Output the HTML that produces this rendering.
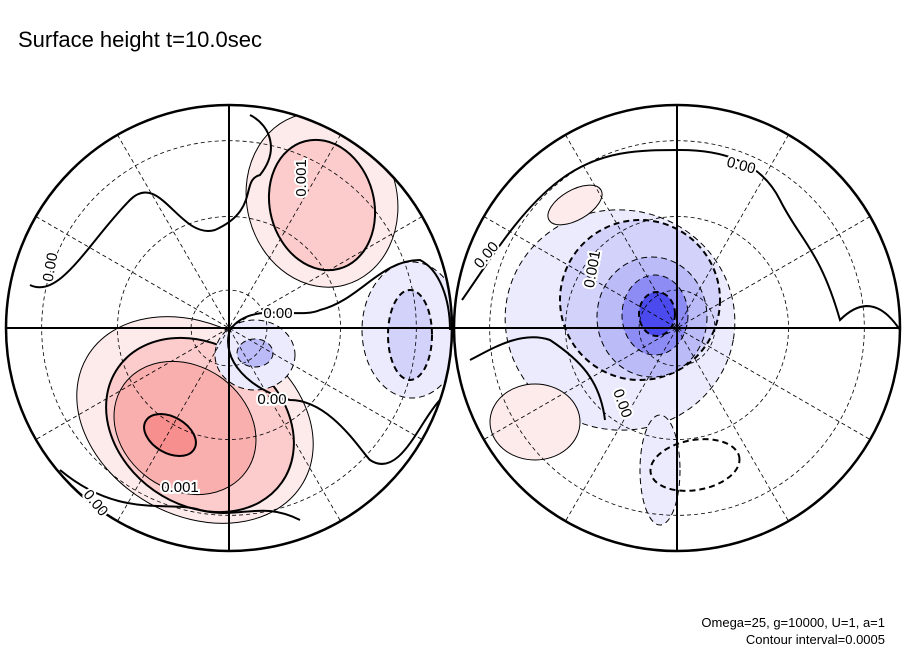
<!DOCTYPE html>
<html><head><meta charset="utf-8"><style>
html,body{margin:0;padding:0;background:#fff;width:904px;height:654px;overflow:hidden}
svg{display:block}
text{font-family:"Liberation Sans",sans-serif}
</style></head><body>
<svg id="chart" width="904" height="654">
<text x="18" y="47" font-size="22">Surface height t=10.0sec</text>
<g id="panels"></g>
<text x="885" y="627" font-size="13" text-anchor="end">Omega=25, g=10000, U=1, a=1</text>
<text x="885" y="644" font-size="13" text-anchor="end">Contour interval=0.0005</text>
</svg>
<script>
const panelCenters=[[229,328],[677,328]];
const panelRadius=223;
const latCircles=[0.17,0.5,0.84];
const meridianDeg=[0,30,60,90,120,150];
// filled contour blobs: panel, cx, cy, rx, ry, rot, level (+ red / - blue, 0 = dashed outline only)
const blobPanel=[0,0,0,0,0,0,0,0,0,0,1,1,1,1,1,1,1,1,1];
const blobCx=[195,200,185,170,322,322,255,255,412,410,620,660,640,652,655,657,535,575,695];
const blobCy=[420,425,428,435,200,205,355,353,330,335,320,470,300,317,315,314,422,205,465];
const blobRx=[125,100,75,28,75,52,40,18,50,22,115,20,80,55,33,18,45,30,45];
const blobRy=[95,80,62,18,88,66,35,14,68,45,110,55,80,60,40,22,38,15,25];
const blobRot=[30,35,35,30,-15,-15,0,0,0,0,10,0,0,0,0,0,0,-30,-10];
const blobLevel=[1,2,3,4,1,2,-1,-3,-1,-2,-1,-1,-2,-3,-5,-8,1,1,0];
function fillFor(v){
  if(v>0) return ['#fff','#fdeaea','#fccccc','#faafaf','#f88f8f'][Math.min(v,4)];
  const b=['none','#ebebfd','#d2d2fb','#bbbbf8','#a3a3f6','#8c8cf4','#7575f2','#5e5ef0','#4a4aee','#3535ec'];
  return b[Math.min(-v,9)];
}
const NS='http://www.w3.org/2000/svg';
const root=document.getElementById('panels');
const zeroPaths=[
 "M30,285 C60,300 90,240 130,200 C160,170 180,240 215,230 C260,210 240,180 260,175 C280,150 270,125 250,115",
 "M60,470 C120,520 170,500 200,510 C240,520 260,500 300,520",
 "M230,330 C250,300 300,320 320,310 C360,300 380,260 420,260 C440,270 450,300 450,330",
 "M230,330 C220,360 250,390 290,400 C330,400 360,450 370,460 C400,480 420,420 440,400",
 "M462,300 C490,260 520,210 560,180 C600,150 640,150 680,150 C720,150 760,160 780,200 C800,240 820,250 840,320 C860,300 880,300 900,330",
 "M470,360 C490,350 520,330 550,340 C580,360 600,380 605,420"
];
panelCenters.forEach((c,p)=>{
  const g=document.createElementNS(NS,'g');
  
  
  const clipId='clip'+p;
  const cp=document.createElementNS(NS,'clipPath');cp.setAttribute('id',clipId);
  const cc=document.createElementNS(NS,'circle');cc.setAttribute('cx',c[0]);cc.setAttribute('cy',c[1]);cc.setAttribute('r',panelRadius);
  cp.appendChild(cc);g.appendChild(cp);
  const inner=document.createElementNS(NS,'g');inner.setAttribute('clip-path','url(#'+clipId+')');
  blobPanel.forEach((bp,i)=>{
    if(bp!==p||blobRx[i]===0) return;
    const e=document.createElementNS(NS,'ellipse');
    
    
    e.setAttribute('cx',blobCx[i]);e.setAttribute('cy',blobCy[i]);
    e.setAttribute('rx',blobRx[i]);e.setAttribute('ry',blobRy[i]);
    e.setAttribute('transform','rotate('+blobRot[i]+' '+blobCx[i]+' '+blobCy[i]+')');
    const lv=blobLevel[i];
    e.setAttribute('fill',fillFor(lv));
    e.setAttribute('stroke','#000');
    e.setAttribute('stroke-width',(Math.abs(lv)%2===0)?2:1);
    if(lv<=0) e.setAttribute('stroke-dasharray','6 4');
    inner.appendChild(e);
  });
  zeroPaths.forEach((d,i)=>{
    if((i<4?0:1)!==p) return;
    const pa=document.createElementNS(NS,'path');
    
    
    pa.setAttribute('d',d);pa.setAttribute('fill','none');pa.setAttribute('stroke','#000');pa.setAttribute('stroke-width','2');
    inner.appendChild(pa);
  });
  latCircles.forEach(f=>{
    const lc=document.createElementNS(NS,'circle');
    
    
    lc.setAttribute('cx',c[0]);lc.setAttribute('cy',c[1]);lc.setAttribute('r',f*panelRadius);
    lc.setAttribute('fill','none');lc.setAttribute('stroke','#000');lc.setAttribute('stroke-width','0.8');lc.setAttribute('stroke-dasharray','4 3');
    inner.appendChild(lc);
  });
  meridianDeg.forEach(d=>{
    if(d===0||d===90) return;
    const a=d*Math.PI/180;
    const l=document.createElementNS(NS,'line');
    
    
    l.setAttribute('x1',c[0]-Math.cos(a)*panelRadius);l.setAttribute('y1',c[1]-Math.sin(a)*panelRadius);
    l.setAttribute('x2',c[0]+Math.cos(a)*panelRadius);l.setAttribute('y2',c[1]+Math.sin(a)*panelRadius);
    l.setAttribute('stroke','#000');l.setAttribute('stroke-width','0.8');l.setAttribute('stroke-dasharray','4 3');
    inner.appendChild(l);
  });
  g.appendChild(inner);
  [[c[0]-panelRadius,c[1],c[0]+panelRadius,c[1]],[c[0],c[1]-panelRadius,c[0],c[1]+panelRadius]].forEach(s=>{
    const l=document.createElementNS(NS,'line');
    
    
    l.setAttribute('x1',s[0]);l.setAttribute('y1',s[1]);l.setAttribute('x2',s[2]);l.setAttribute('y2',s[3]);
    l.setAttribute('stroke','#000');l.setAttribute('stroke-width','2');
    g.appendChild(l);
  });
  const o=document.createElementNS(NS,'circle');
  
  
  o.setAttribute('cx',c[0]);o.setAttribute('cy',c[1]);o.setAttribute('r',panelRadius);
  o.setAttribute('fill','none');o.setAttribute('stroke','#000');o.setAttribute('stroke-width','2.5');
  g.appendChild(o);
  root.appendChild(g);
});
const labelText=['0.001','0.00','0.00','0.00','0.001','0.00','0.00','0.00','0.001','0.00'];
const labelX=[306,278,272,55,180,92,740,490,597,618];
const labelY=[178,318,404,268,492,506,170,258,270,405];
const labelRot=[-90,0,0,-80,0,50,15,-50,-80,70];
labelText.forEach((t,i)=>{
  const tx=document.createElementNS(NS,'text');
  
  
  tx.setAttribute('x',labelX[i]);tx.setAttribute('y',labelY[i]);
  tx.setAttribute('font-size','15');tx.setAttribute('text-anchor','middle');
  tx.setAttribute('transform','rotate('+labelRot[i]+' '+labelX[i]+' '+labelY[i]+')');
  tx.setAttribute('stroke','#fff');tx.setAttribute('stroke-width','4');tx.setAttribute('paint-order','stroke');
  tx.textContent=t;
  root.appendChild(tx);
});
</script>
</body></html>
